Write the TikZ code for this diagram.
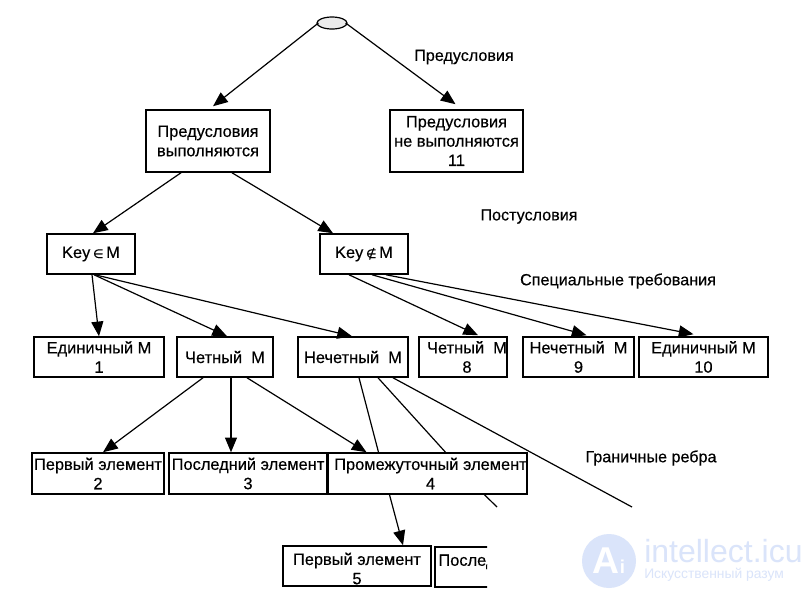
\documentclass[tikz,border=0pt]{standalone}
\usepackage{fontspec}
\setmainfont{Liberation Sans}
\newfontfamily\inkfont[FakeBold=0.35]{Liberation Sans}
\newfontfamily\symfont[FakeBold=0.5]{DejaVu Sans}
\usetikzlibrary{calc,arrows.meta,shapes.geometric}
\tikzset{
  x=0.75pt,y=-0.75pt,
  stepbox/.style={draw=black,line width=1.15pt,inner sep=0pt,align=center,font=\inkfont\fontsize{12.3}{14.5}\selectfont},
  note/.style={inner sep=0pt,font=\inkfont\fontsize{12.1}{13}\selectfont},
  link/.style={draw=black,line width=0.9pt,-{Triangle[length=11pt,width=9pt]}},
  bare/.style={draw=black,line width=0.9pt},
}
% Box given by its left, top, right and bottom edges
\newcommand{\tbox}[6]{\node[stepbox,minimum width=#4*0.75pt-#2*0.75pt,minimum height=#5*0.75pt-#3*0.75pt] (#1) at ({(#2+#4)/2},{(#3+#5)/2}) {#6};}
\newcommand{\settag}[1]{{\symfont\fontsize{9}{10}\selectfont #1}}
\definecolor{markblue}{RGB}{218,228,250}
\begin{document}
\begin{tikzpicture}
\useasboundingbox (0,0) rectangle (807,597);
\fill[white] (0,0) rectangle (807,597);

% Site mark
\fill[markblue] (609,561) circle (27);
\node[inner sep=0pt,text=white,font=\fontsize{28}{28}\selectfont\bfseries] (markA) at (609,561) {A{\fontsize{14}{14}\selectfont i}};
\node[inner sep=0pt,text=markblue,anchor=west,font=\fontsize{24}{24}\selectfont] (markname) at (644,551) {intellect.icu};
\node[inner sep=0pt,text=markblue,anchor=west,font=\fontsize{10.4}{10}\selectfont] (marksub) at (644,575) {Искусственный разум};

% Root
\node[draw=black,line width=0.9pt,fill=black!8,ellipse,inner sep=0pt,minimum width=22.5pt,minimum height=9pt] (root) at (332,23) {};

% Tree boxes
\tbox{pre}{146}{110}{270}{172}{Предусловия\\выполняются}
\tbox{nopre}{390}{110}{523}{172}{Предусловия\\не выполняются\\11}
\tbox{kin}{47}{234}{135}{274}{Key\,\settag{∈}\,M}
\tbox{knot}{320}{234}{408}{274}{Key\,\settag{∉}\,M}
\tbox{one}{34}{337}{164}{377}{Единичный М\\1}
\tbox{even}{177}{337}{273}{377}{Четный\ \ М}
\tbox{odd}{298}{337}{408}{377}{Нечетный\ \ М}
\tbox{eight}{419}{337}{507}{377}{\hspace*{6pt}Четный\ \ М\\\hspace*{6pt}8}
\tbox{nine}{523}{337}{634}{377}{Нечетный\ \ М\\9}
\tbox{ten}{639}{337}{768}{377}{Единичный М\\10}
\tbox{first}{32}{453}{164}{494}{Первый элемент\\2}
\tbox{last}{169}{453}{327}{494}{Последний элемент\\3}
\tbox{mid}{328}{453}{527}{494}{\hspace*{4.5pt}Промежуточный элемент\\\hspace*{4.5pt}4}
\tbox{firstb}{283}{546}{431}{586}{\rule{0pt}{13pt}Первый элемент\\5}

% Box whose right part runs off the edge of the figure
\begin{scope}
  \clip (430,540) rectangle (487,592);
  \node[stepbox,minimum width=120pt,minimum height=30pt,anchor=north west] (lastb) at (434,546) {\rule{0pt}{13pt}Последний элемент\\~};
\end{scope}

% Captions
\node[note] (c1) at (464,57) {Предусловия};
\node[note] (c2) at (529,216.5) {Постусловия};
\node[note] (c3) at (618,281) {Специальные требования};
\node[note] (c4) at (651,458) {Граничные ребра};

% Connectors
\draw[link] ($(root.west)+(2,0)$) -- ($(pre.north)+(5,-3)$);
\draw[link] ($(root.east)+(-2,0)$) -- ($(nopre.north)+(-1,-5)$);
\draw[link] ($(pre.south)+(-27,0)$) -- ($(kin.north)+(2,0)$);
\draw[link] ($(pre.south)+(24,0)$) -- ($(knot.north)+(-31,0)$);
\draw[link] ($(kin.south)+(1,0)$) -- ($(one.north)+(0,0)$);
\draw[link] ($(kin.south)+(3,0)$) -- ($(even.north)+(2,0)$);
\draw[link] ($(kin.south)+(4,0)$) -- ($(odd.north)+(-1,0)$);
\draw[link] ($(knot.south)+(-15,0)$) -- ($(eight.north)+(15,-1)$);
\draw[link] ($(knot.south)+(8,0)$) -- ($(nine.north)+(8,-1)$);
\draw[link] ($(knot.south)+(22,0)$) -- ($(ten.north)+(-10,-2)$);
\draw[link] ($(even.south)+(-22,0)$) -- ($(first.north)+(5,0)$);
\draw[link] ($(even.south)+(6,0)$) -- ($(last.north)+(-17,0)$);
\draw[link] ($(even.south)+(22,0)$) -- ($(mid.north)+(-61,0)$);

% Edges from the odd-size box, passing behind the box below them
\coordinate (tailb) at (497,507);
\coordinate (tailc) at (632,507);
\draw[bare] ($(odd.south)+(6,0)$) -- ($(mid.north)+(-49,0)$);
\draw[link] ($(mid.south)+(-38,0)$) -- ($(firstb.north)+(46,0)$);
\draw[bare] ($(odd.south)+(25,0)$) -- ($(mid.north)+(18,0)$);
\draw[bare] ($(mid.south)+(57,0)$) -- (tailb);
\draw[bare] ($(odd.south)+(40,0)$) -- (tailc);
\end{tikzpicture}
\end{document}
